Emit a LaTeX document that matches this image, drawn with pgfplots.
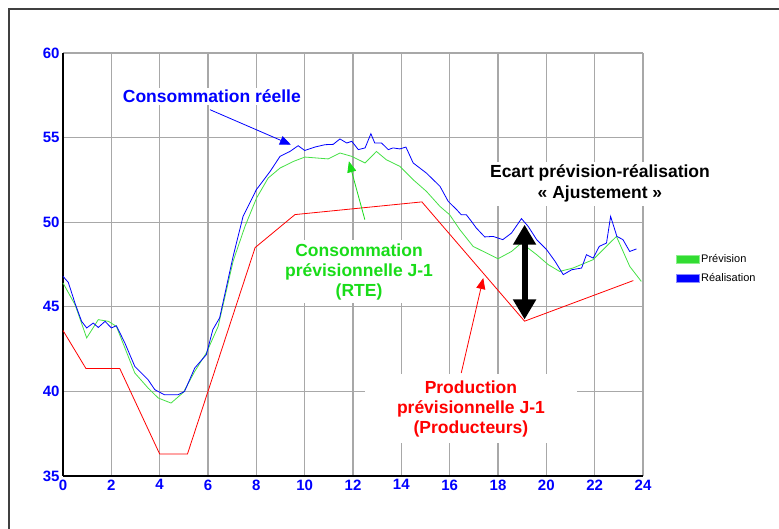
\documentclass[border=0pt]{standalone}
\usepackage{fontspec}
\setmainfont{Liberation Sans}
\usepackage{pgfplots}
\pgfplotsset{compat=1.18}
\usetikzlibrary{arrows.meta}
\definecolor{cblue}{RGB}{0,0,255}
\definecolor{cgreen}{RGB}{70,225,70}
\definecolor{tgreen}{RGB}{25,220,25}
\definecolor{cred}{RGB}{255,0,0}
\definecolor{lgreen}{RGB}{50,220,50}
\definecolor{lgreenb}{RGB}{140,240,140}
\definecolor{lblueb}{RGB}{140,140,255}
\begin{document}
\begin{tikzpicture}
\useasboundingbox (0,0) rectangle (779pt,529pt);
\fill[white] (0,0) rectangle (779pt,529pt);
\draw[line width=2pt, gray!50!black] (9pt,0pt) -- (9pt,520pt) -- (779pt,520pt);
\begin{axis}[
  scale only axis, width=580pt, height=423pt,
  at={(63pt,53pt)}, anchor=south west,
  xmin=0, xmax=24, ymin=35, ymax=60,
  xtick={0,2,...,24}, ytick={35,40,...,60},
  grid=major, grid style={color=gray!68, line width=1.2pt},
  axis x line*=bottom, axis y line*=left,
  axis line style={-, line width=1.3pt, black},
  major tick length=0pt,
  tick label style={font=\fontsize{15}{15}\selectfont\bfseries, text=cblue},
  /pgf/number format/assume math mode=true,
  clip=false,
  legend style={draw=none, fill=none, at={(1.051,0.534)}, anchor=north west,
    font=\fontsize{11}{13}\selectfont, row sep=5pt, cells={anchor=west}},
]
\addplot[cgreen, line width=0.8pt, forget plot] coordinates {
(0,46.41)(0.5,45.12)(0.98,43.16)(1.46,44.24)(1.88,44.14)(2.21,43.84)(2.97,41.09)(3.52,40.2)(3.94,39.61)(4.47,39.31)(4.98,39.94)(5.45,41.18)(5.93,42.27)(6.42,43.84)(7.04,47.7)(7.53,49.75)(8.01,51.43)(8.49,52.61)(8.98,53.2)(9.53,53.59)(10.01,53.85)(10.97,53.74)(11.46,54.09)(11.95,53.89)(12.5,53.5)(12.97,54.18)(13.38,53.69)(13.94,53.3)(14.49,52.51)(15.04,51.82)(15.6,50.93)(16.0,50.44)(16.42,49.56)(16.97,48.57)(17.52,48.18)(18.0,47.84)(18.56,48.27)(18.97,48.77)(19.6,48.08)(20.08,47.49)(20.55,47.09)(21.1,47.29)(21.93,47.78)(22.9,49.16)(23.45,47.39)(23.93,46.5)
};
\addplot[cblue, line width=0.8pt, forget plot] coordinates {
(0,46.8)(0.22,46.44)(0.5,45.2)(0.77,44.14)(0.98,43.75)(1.25,44.04)(1.46,43.78)(1.74,44.14)(2.0,43.75)(2.21,43.88)(2.56,42.86)(2.97,41.48)(3.52,40.69)(3.8,40.1)(4.2,39.8)(4.76,39.8)(5.03,40.0)(5.45,41.38)(5.93,42.17)(6.2,43.65)(6.48,44.34)(7.04,47.98)(7.45,50.34)(8.0,51.92)(8.57,53.0)(8.98,53.89)(9.39,54.18)(9.73,54.52)(10.0,54.24)(10.42,54.44)(10.84,54.58)(11.18,54.6)(11.46,54.92)(11.74,54.68)(11.95,54.78)(12.22,54.29)(12.5,54.39)(12.74,55.23)(12.9,54.68)(13.18,54.68)(13.46,54.29)(13.66,54.39)(13.94,54.33)(14.19,54.44)(14.49,53.5)(15.04,52.9)(15.6,52.12)(15.94,51.23)(16.29,50.74)(16.48,50.44)(16.69,50.44)(16.9,50.05)(17.1,49.66)(17.45,49.13)(17.8,49.16)(18.2,48.97)(18.56,49.36)(18.97,50.21)(19.25,49.75)(19.6,48.97)(20.01,48.38)(20.36,47.69)(20.7,46.9)(21.05,47.19)(21.46,47.29)(21.66,48.08)(21.94,47.88)(22.19,48.57)(22.49,48.77)(22.66,50.34)(22.92,49.16)(23.17,48.97)(23.45,48.27)(23.73,48.42)
};
\addplot[cred, line width=0.8pt, forget plot] coordinates {
(0,43.6)(0.95,41.35)(2.35,41.35)(4.0,36.3)(5.15,36.3)(7.95,48.5)(9.6,50.45)(14.85,51.2)(19.1,44.15)(23.6,46.55)
};
\addlegendimage{legend image code/.code={\draw[draw=lgreenb, fill=lgreen] (0pt,-4pt) rectangle (23pt,4pt);}}
\addlegendentry{Prévision}
\addlegendimage{legend image code/.code={\draw[draw=lblueb, fill=cblue] (0pt,-4pt) rectangle (23pt,4pt);}}
\addlegendentry{Réalisation}

% annotations
\node[fill=white, inner sep=2pt, text=cblue, font=\fontsize{17.5}{20}\selectfont\bfseries] at (axis cs:6.16,57.42) {Consommation réelle};
\draw[cblue, line width=0.8pt, -{Triangle[length=11pt,width=9pt]}] (axis cs:6.08,56.65) -- (axis cs:9.43,54.58);

\node[fill=white, inner xsep=12pt, inner ysep=3pt, text=tgreen, align=center, font=\fontsize{17.5}{20}\selectfont\bfseries] at (axis cs:12.25,47.08) {Consommation\\prévisionnelle J-1\\(RTE)};
\draw[tgreen, line width=0.8pt, -{Triangle[length=11pt,width=9pt]}] (axis cs:12.49,50.15) -- (axis cs:11.83,53.6);

\node[fill=white, inner xsep=32pt, inner ysep=6pt, text=cred, align=center, font=\fontsize{17.5}{20}\selectfont\bfseries] at (axis cs:16.88,38.98) {Production\\prévisionnelle J-1\\(Producteurs)};
\draw[cred, line width=0.8pt, -{Triangle[length=11pt,width=9pt]}] (axis cs:16.48,41.09) -- (axis cs:17.39,46.7);

\node[fill=white, inner xsep=4pt, inner ysep=3pt, text=black, align=center, font=\fontsize{17.5}{21}\selectfont\bfseries] at (axis cs:22.22,52.27) {Ecart prévision-réalisation\\« Ajustement »};
\draw[black, line width=6pt, {Triangle[length=20pt,width=22pt]}-{Triangle[length=20pt,width=22pt]}] (axis cs:19.1,44.25) -- (axis cs:19.1,49.85);
\end{axis}
\end{tikzpicture}
\end{document}
